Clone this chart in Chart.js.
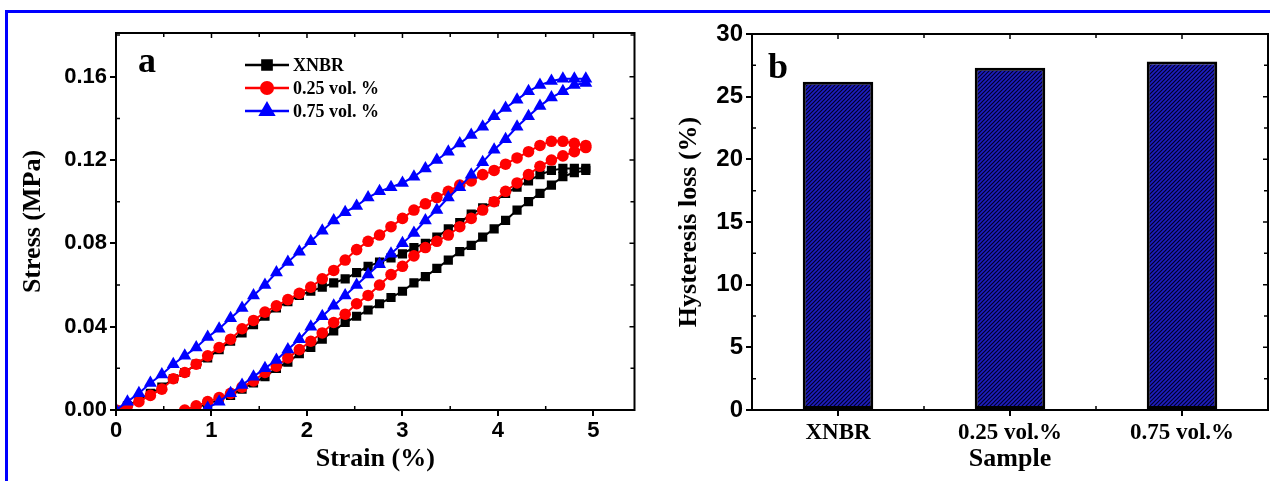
<!DOCTYPE html>
<html>
<head>
<meta charset="utf-8">
<script src="https://cdn.jsdelivr.net/npm/chart.js@4.4.1/dist/chart.umd.min.js"></script>
<style>
  html, body { margin: 0; padding: 0; background: #fff; }
  body { width: 1270px; height: 481px; position: relative; overflow: hidden; }
  #frame { position: absolute; left: 5px; top: 10px; width: 1265px; height: 471px;
    border-top: 3px solid #0000ff; border-left: 3px solid #0000ff; box-sizing: border-box; }
  canvas { position: absolute; top: 0; }
  #chartA { left: 10px; }
  #chartB { left: 640px; }
</style>
</head>
<body>
<div id="frame"></div>
<canvas id="chartA" width="632" height="481"></canvas>
<canvas id="chartB" width="630" height="481"></canvas>
<script>
// ---- data (a): stress-strain loops, loading then unloading ----
const seriesNames = ["XNBR", "0.25 vol. %", "0.75 vol. %"];

const loadStrain = [0, 0.12, 0.24, 0.36, 0.48, 0.6, 0.72, 0.84, 0.96, 1.08, 1.2, 1.32, 1.44, 1.56,
  1.68, 1.8, 1.92, 2.04, 2.16, 2.28, 2.4, 2.52, 2.64, 2.76, 2.88, 3.0, 3.12, 3.24, 3.36, 3.48,
  3.6, 3.72, 3.84, 3.96, 4.08, 4.2, 4.32, 4.44, 4.56, 4.68, 4.8, 4.92];

const xnbrLoad = [0, 0.002, 0.005, 0.008, 0.011, 0.015, 0.018, 0.022, 0.025, 0.029, 0.033, 0.037,
  0.041, 0.045, 0.049, 0.052, 0.055, 0.057, 0.059, 0.061, 0.063, 0.066, 0.069, 0.071, 0.073,
  0.075, 0.078, 0.080, 0.083, 0.087, 0.090, 0.094, 0.097, 0.100, 0.104, 0.107, 0.110, 0.113,
  0.115, 0.116, 0.116, 0.116];
const xnbrUnloadStrain = [4.92, 4.8, 4.68, 4.56, 4.44, 4.32, 4.2, 4.08, 3.96, 3.84, 3.72, 3.6,
  3.48, 3.36, 3.24, 3.12, 3.0, 2.88, 2.76, 2.64, 2.52, 2.4, 2.28, 2.16, 2.04, 1.92, 1.8, 1.68,
  1.56, 1.44, 1.32, 1.2, 1.08, 0.96, 0.84];
const xnbrUnload = [0.115, 0.114, 0.112, 0.108, 0.104, 0.100, 0.096, 0.091, 0.087, 0.083, 0.079,
  0.076, 0.072, 0.068, 0.064, 0.061, 0.057, 0.054, 0.051, 0.048, 0.045, 0.042, 0.038, 0.034,
  0.030, 0.027, 0.023, 0.020, 0.016, 0.013, 0.010, 0.007, 0.005, 0.003, 0.001];

const vol025Load = [0, 0.002, 0.004, 0.007, 0.010, 0.015, 0.018, 0.022, 0.026, 0.030, 0.034, 0.039,
  0.043, 0.047, 0.050, 0.053, 0.056, 0.059, 0.063, 0.067, 0.072, 0.077, 0.081, 0.084, 0.088,
  0.092, 0.096, 0.099, 0.102, 0.105, 0.108, 0.110, 0.113, 0.115, 0.118, 0.121, 0.124, 0.127,
  0.129, 0.129, 0.128, 0.127];
const vol025UnloadStrain = [4.92, 4.8, 4.68, 4.56, 4.44, 4.32, 4.2, 4.08, 3.96, 3.84, 3.72, 3.6,
  3.48, 3.36, 3.24, 3.12, 3.0, 2.88, 2.76, 2.64, 2.52, 2.4, 2.28, 2.16, 2.04, 1.92, 1.8, 1.68,
  1.56, 1.44, 1.32, 1.2, 1.08, 0.96, 0.84, 0.72];
const vol025Unload = [0.126, 0.124, 0.122, 0.120, 0.117, 0.113, 0.109, 0.105, 0.100, 0.096, 0.092,
  0.088, 0.084, 0.081, 0.078, 0.074, 0.069, 0.065, 0.060, 0.055, 0.051, 0.046, 0.042, 0.037,
  0.033, 0.029, 0.025, 0.021, 0.018, 0.014, 0.011, 0.008, 0.006, 0.004, 0.002, 0.000];

const vol075Load = [0, 0.004, 0.008, 0.013, 0.017, 0.022, 0.026, 0.030, 0.035, 0.039, 0.044, 0.049,
  0.055, 0.060, 0.066, 0.071, 0.076, 0.081, 0.086, 0.091, 0.095, 0.098, 0.102, 0.105, 0.107,
  0.109, 0.112, 0.116, 0.120, 0.124, 0.128, 0.132, 0.136, 0.141, 0.145, 0.149, 0.153, 0.156,
  0.158, 0.159, 0.159, 0.159];
const vol075UnloadStrain = [4.92, 4.8, 4.68, 4.56, 4.44, 4.32, 4.2, 4.08, 3.96, 3.84, 3.72, 3.6,
  3.48, 3.36, 3.24, 3.12, 3.0, 2.88, 2.76, 2.64, 2.52, 2.4, 2.28, 2.16, 2.04, 1.92, 1.8, 1.68,
  1.56, 1.44, 1.32, 1.2, 1.08, 0.96];
const vol075Unload = [0.157, 0.156, 0.153, 0.150, 0.146, 0.141, 0.136, 0.130, 0.125, 0.119, 0.113,
  0.107, 0.102, 0.096, 0.091, 0.085, 0.080, 0.075, 0.070, 0.065, 0.060, 0.055, 0.050, 0.045,
  0.040, 0.034, 0.029, 0.024, 0.020, 0.016, 0.012, 0.008, 0.004, 0.001];

// ---- data (b): hysteresis loss ----
const samples = ["XNBR", "0.25 vol.%", "0.75 vol.%"];
const hysteresisLoss = [26.2, 27.3, 27.8];

const tickFont = { family: "'Liberation Sans', Arial, sans-serif", size: 22, weight: "bold" };
const serif = "'Liberation Serif', 'Times New Roman', serif";

function loop(xa, ya, xb, yb) {
  const pts = xa.map((x, i) => ({ x: x, y: ya[i] }));
  return pts.concat(xb.map((x, i) => ({ x: x, y: yb[i] })));
}

// frame box, inward minor ticks and mirrored ticks on top / right
const frameTicks = {
  id: "frameTicks",
  afterDraw(chart) {
    const { ctx, chartArea: a } = chart;
    const xs = chart.scales.x, ys = chart.scales.y;
    const xMaj = xs.ticks.map((t, i) => xs.getPixelForTick(i));
    const yMaj = ys.ticks.map((t, i) => ys.getPixelForTick(i));
    let xMin = [];
    if (xs.type === "category") {
      const step = xMaj.length > 1 ? xMaj[1] - xMaj[0] : 0;
      xMin = xMaj.map(p => p - step / 2).concat([xMaj[xMaj.length - 1] + step / 2]);
    } else {
      for (let i = 0; i < xMaj.length; i++) {
        const nx = i + 1 < xMaj.length ? xMaj[i + 1] : xMaj[i] + (xMaj[i] - xMaj[i - 1]);
        xMin.push((xMaj[i] + nx) / 2);
      }
    }
    const yMin = [];
    for (let i = 0; i < yMaj.length; i++) {
      const ny = i + 1 < yMaj.length ? yMaj[i + 1] : yMaj[i] + (yMaj[i] - yMaj[i - 1]);
      yMin.push((yMaj[i] + ny) / 2);
    }
    ctx.save();
    ctx.strokeStyle = "#000";
    ctx.lineWidth = 1.5;
    ctx.beginPath();
    xMaj.forEach(p => { ctx.moveTo(p, a.top); ctx.lineTo(p, a.top + 5); });
    xMin.filter(p => p > a.left + 1 && p < a.right - 1).forEach(p => {
      ctx.moveTo(p, a.bottom); ctx.lineTo(p, a.bottom - 4);
      ctx.moveTo(p, a.top); ctx.lineTo(p, a.top + 4);
    });
    yMaj.forEach(p => { ctx.moveTo(a.right, p); ctx.lineTo(a.right - 5, p); });
    yMin.filter(p => p > a.top + 1 && p < a.bottom - 1).forEach(p => {
      ctx.moveTo(a.left, p); ctx.lineTo(a.left + 4, p);
      ctx.moveTo(a.right, p); ctx.lineTo(a.right - 4, p);
    });
    ctx.stroke();
    ctx.lineWidth = 2;
    ctx.strokeRect(a.left, a.top, a.right - a.left, a.bottom - a.top);
    ctx.restore();
  }
};

const panelLabel = {
  id: "panelLabel",
  afterDraw(chart, args, opts) {
    const ctx = chart.ctx;
    ctx.save();
    ctx.font = "bold 36px " + serif;
    ctx.fillStyle = "#000";
    ctx.textBaseline = "alphabetic";
    ctx.fillText(opts.text, opts.x, opts.y);
    ctx.restore();
  }
};

// legend with a line segment and the marker, as in the original figure
const lineLegend = {
  id: "lineLegend",
  afterDraw(chart, args, opts) {
    const ctx = chart.ctx;
    ctx.save();
    ctx.font = "bold 18px " + serif;
    ctx.textBaseline = "middle";
    chart.data.datasets.forEach((ds, i) => {
      const y = opts.y + i * opts.gap;
      ctx.strokeStyle = ds.borderColor;
      ctx.fillStyle = ds.borderColor;
      ctx.lineWidth = 2.5;
      ctx.beginPath();
      ctx.moveTo(opts.x, y);
      ctx.lineTo(opts.x + 44, y);
      ctx.stroke();
      Chart.helpers.drawPoint(ctx, { pointStyle: ds.pointStyle, radius: ds.pointRadius, rotation: 0, borderWidth: 1 }, opts.x + 22, y);
      ctx.fillStyle = "#000";
      ctx.fillText(ds.label, opts.x + 48, y + 1);
    });
    ctx.restore();
  }
};

function setFit(w, h) {
  return {
    y: s => { s.width = w; },
    x: s => { s.height = h; }
  };
}

const fitA = setFit(106, 71);
new Chart(document.getElementById("chartA"), {
  type: "scatter",
  data: {
    datasets: [
      { label: seriesNames[0], data: loop(loadStrain, xnbrLoad, xnbrUnloadStrain, xnbrUnload),
        borderColor: "#000000", backgroundColor: "#000000", pointStyle: "rect", pointRadius: 6.5, order: 3 },
      { label: seriesNames[1], data: loop(loadStrain, vol025Load, vol025UnloadStrain, vol025Unload),
        borderColor: "#ff0000", backgroundColor: "#ff0000", pointStyle: "circle", pointRadius: 5.8, order: 2 },
      { label: seriesNames[2], data: loop(loadStrain, vol075Load, vol075UnloadStrain, vol075Unload),
        borderColor: "#0000ff", backgroundColor: "#0000ff", pointStyle: "triangle", pointRadius: 7.5, order: 1 }
    ].map(d => Object.assign(d, { showLine: true, borderWidth: 2, pointBorderWidth: 0, pointHoverRadius: d.pointRadius }))
  },
  options: {
    responsive: false,
    animation: false,
    devicePixelRatio: 1,
    layout: { padding: { top: 33, right: 5, left: 0, bottom: 0 } },
    scales: {
      x: {
        type: "linear", min: 0, max: 5.43,
        afterFit: fitA.x,
        ticks: { stepSize: 1, includeBounds: false, color: "#000", font: tickFont, padding: 2, maxRotation: 0 },
        grid: { drawOnChartArea: false, drawTicks: true, tickLength: 6, color: "#000", lineWidth: 2 },
        border: { display: false },
        title: { display: true, text: "Strain (%)", color: "#000", font: { family: serif, size: 26, weight: "bold" }, padding: { top: 0, bottom: 6 } }
      },
      y: {
        min: 0, max: 0.181,
        afterFit: fitA.y,
        ticks: { stepSize: 0.04, includeBounds: false, color: "#000", font: tickFont, padding: 3,
          callback: v => v.toFixed(2) },
        grid: { drawOnChartArea: false, drawTicks: true, tickLength: 6, color: "#000", lineWidth: 2 },
        border: { display: false },
        title: { display: true, text: "Stress (MPa)", color: "#000", font: { family: serif, size: 26, weight: "bold" }, padding: { top: 8, bottom: 0 } }
      }
    },
    plugins: {
      legend: { display: false },
      tooltip: { enabled: false },
      panelLabel: { text: "a", x: 128, y: 72 },
      lineLegend: { x: 235, y: 65, gap: 23 }
    }
  },
  plugins: [frameTicks, panelLabel, lineLegend]
});

// hatched fill for the bars
function hatch() {
  const c = document.createElement("canvas");
  c.width = 4; c.height = 4;
  const g = c.getContext("2d");
  g.fillStyle = "#1e1ec0";
  g.fillRect(0, 0, 4, 4);
  g.strokeStyle = "#000028";
  g.lineWidth = 1.2;
  g.beginPath();
  g.moveTo(0, 4); g.lineTo(4, 0);
  g.moveTo(-1, 1); g.lineTo(1, -1);
  g.moveTo(3, 5); g.lineTo(5, 3);
  g.stroke();
  return g.createPattern(c, "repeat");
}

const fitB = setFit(112, 71);
new Chart(document.getElementById("chartB"), {
  type: "bar",
  data: {
    labels: samples,
    datasets: [{
      data: hysteresisLoss,
      backgroundColor: hatch(),
      borderColor: "#000",
      borderWidth: 3,
      borderSkipped: false,
      barPercentage: 0.41,
      categoryPercentage: 1
    }]
  },
  options: {
    responsive: false,
    animation: false,
    devicePixelRatio: 1,
    layout: { padding: { top: 34, right: 2, left: 0, bottom: 0 } },
    scales: {
      x: {
        afterFit: fitB.x,
        ticks: { color: "#000", font: { family: serif, size: 23, weight: "bold" }, padding: 3, maxRotation: 0 },
        grid: { offset: false, drawOnChartArea: false, drawTicks: true, tickLength: 6, color: "#000", lineWidth: 2 },
        border: { display: false },
        title: { display: true, text: "Sample", color: "#000", font: { family: serif, size: 26, weight: "bold" }, padding: { top: 0, bottom: 6 } }
      },
      y: {
        min: 0, max: 30,
        afterFit: fitB.y,
        ticks: { stepSize: 5, color: "#000", font: { family: "'Liberation Sans', Arial, sans-serif", size: 24, weight: "bold" }, padding: 3 },
        grid: { drawOnChartArea: false, drawTicks: true, tickLength: 6, color: "#000", lineWidth: 2 },
        border: { display: false },
        title: { display: true, text: "Hysteresis loss (%)", color: "#000", font: { family: serif, size: 26, weight: "bold" }, padding: { top: 34, bottom: 0 } }
      }
    },
    plugins: {
      legend: { display: false },
      tooltip: { enabled: false },
      panelLabel: { text: "b", x: 128, y: 78 }
    }
  },
  plugins: [frameTicks, panelLabel]
});
</script>
</body>
</html>
